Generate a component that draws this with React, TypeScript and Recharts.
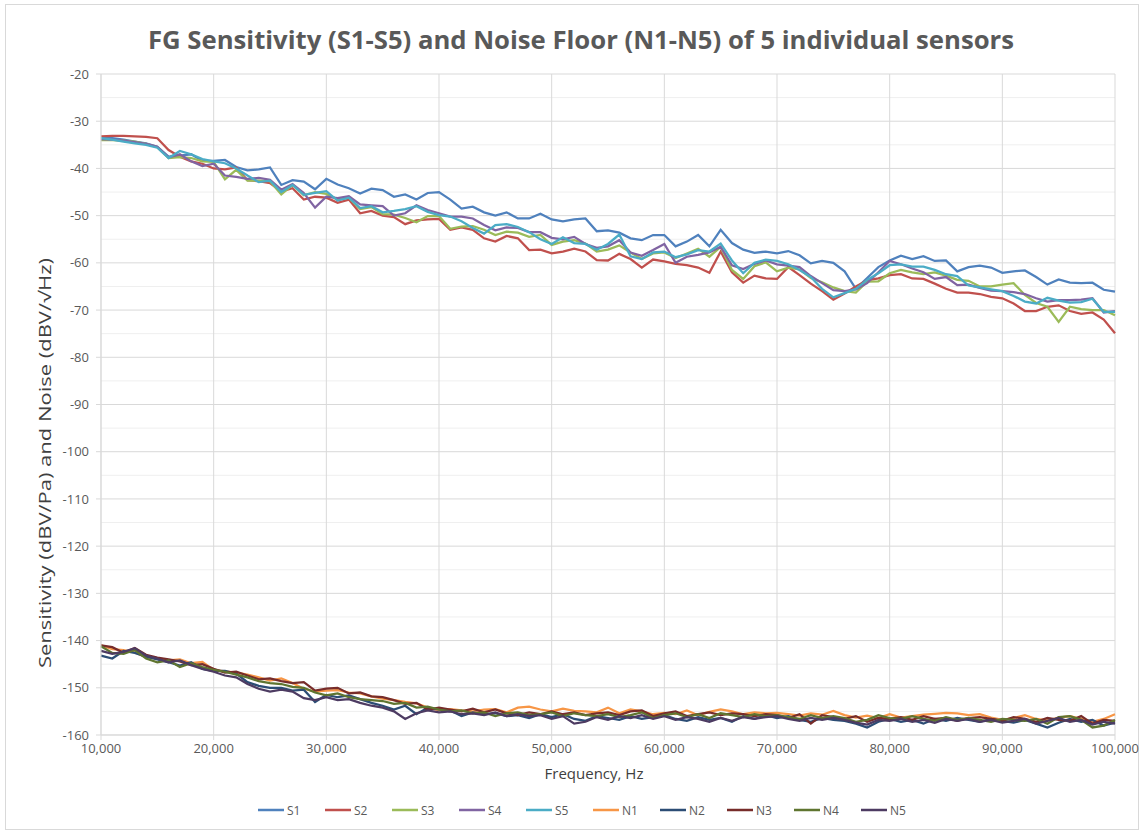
import React from 'react';
import { LineChart, Line, XAxis, YAxis, CartesianGrid, Legend } from 'recharts';

const FREQ = [
  10000, 11000, 12000, 13000, 14000, 15000, 16000, 17000, 18000, 19000,
  20000, 21000, 22000, 23000, 24000, 25000, 26000, 27000, 28000, 29000,
  30000, 31000, 32000, 33000, 34000, 35000, 36000, 37000, 38000, 39000,
  40000, 41000, 42000, 43000, 44000, 45000, 46000, 47000, 48000, 49000,
  50000, 51000, 52000, 53000, 54000, 55000, 56000, 57000, 58000, 59000,
  60000, 61000, 62000, 63000, 64000, 65000, 66000, 67000, 68000, 69000,
  70000, 71000, 72000, 73000, 74000, 75000, 76000, 77000, 78000, 79000,
  80000, 81000, 82000, 83000, 84000, 85000, 86000, 87000, 88000, 89000,
  90000, 91000, 92000, 93000, 94000, 95000, 96000, 97000, 98000, 99000,
  100000,
];

const S1 = [
  -33.4, -33.6, -33.9, -34.3, -34.7, -35.4, -37.5, -37.3, -37.0, -38.4,
  -38.4, -38.2, -39.7, -40.4, -40.2, -39.8, -43.5, -42.5, -42.8, -44.4,
  -42.2, -43.4, -44.2, -45.3, -44.3, -44.6, -46.0, -45.5, -46.6, -45.2,
  -45.0, -46.6, -48.5, -48.1, -49.3, -50.0, -49.3, -50.6, -50.6, -49.6,
  -50.8, -51.2, -50.8, -50.6, -53.3, -53.1, -53.6, -54.8, -55.2, -54.1,
  -54.1, -56.5, -55.5, -54.1, -56.5, -53.0, -55.8, -57.2, -57.9, -57.6,
  -58.0, -57.5, -58.4, -60.1, -59.6, -60.0, -61.8, -65.5, -63.2, -60.9,
  -59.5, -58.5, -59.2, -58.6, -59.6, -59.5, -61.8, -60.9, -60.6, -61.0,
  -62.1, -61.8, -61.6, -63.0, -64.6, -63.5, -64.2, -64.3, -64.2, -65.7,
  -66.1,
];

const S2 = [
  -33.2, -33.1, -33.1, -33.2, -33.3, -33.6, -36.1, -37.5, -38.5, -39.0,
  -40.0, -40.2, -39.8, -42.5, -42.7, -43.1, -44.9, -44.2, -46.6, -46.0,
  -46.2, -47.3, -46.6, -49.5, -49.0, -50.0, -50.3, -51.8, -51.0, -50.8,
  -50.7, -53.0, -52.5, -53.0, -54.8, -55.5, -54.3, -54.8, -57.3, -57.2,
  -58.0, -57.6, -57.0, -57.6, -59.4, -59.5, -58.1, -59.2, -61.0, -59.3,
  -59.7, -60.2, -60.5, -61.0, -62.1, -57.6, -62.0, -64.2, -62.7, -63.3,
  -63.4, -60.9, -62.6, -64.4, -66.0, -67.8, -66.5, -65.0, -63.7, -63.3,
  -62.6, -62.4, -63.3, -63.4, -64.4, -65.5, -66.3, -66.3, -66.6, -67.2,
  -67.5, -68.6, -70.2, -70.2, -69.3, -69.0, -70.2, -70.8, -70.5, -72.0,
  -74.9,
];

const S3 = [
  -34.0, -34.0, -34.1, -34.3, -34.8, -35.5, -37.8, -37.6, -37.8, -38.5,
  -38.6, -42.3, -40.3, -42.6, -42.6, -42.7, -45.5, -43.5, -45.7, -45.0,
  -45.4, -46.6, -46.2, -48.6, -48.2, -49.7, -49.8, -50.5, -51.4, -50.1,
  -50.1, -52.8, -52.3, -52.2, -53.0, -54.1, -53.4, -53.6, -54.5, -54.1,
  -56.2, -55.5, -55.2, -55.9, -57.6, -57.2, -56.3, -57.8, -59.2, -58.0,
  -57.8, -59.0, -58.0, -57.0, -58.7, -56.6, -61.5, -63.4, -60.7, -59.9,
  -61.8, -61.0, -61.4, -63.2, -64.1, -65.2, -66.0, -66.3, -64.0, -63.9,
  -62.2, -61.5, -62.0, -62.4, -62.0, -62.7, -63.6, -63.8, -65.0, -65.0,
  -64.6, -64.3, -66.8, -68.5, -69.3, -72.5, -69.3, -69.8, -70.0, -70.0,
  -71.1,
];

const S4 = [
  -33.8, -33.9, -34.1, -34.4, -34.8, -35.4, -37.7, -37.0, -38.5, -39.5,
  -39.0, -41.5, -41.8, -42.2, -42.0, -42.4, -44.5, -43.3, -45.2, -48.3,
  -46.0, -46.3, -45.9, -47.6, -47.8, -48.0, -50.0, -49.5, -47.8, -48.8,
  -49.5, -50.2, -50.2, -50.6, -52.0, -53.1, -52.5, -52.6, -53.5, -53.5,
  -54.7, -55.0, -54.5, -56.0, -56.8, -56.5, -55.2, -57.8, -58.5, -57.3,
  -56.0, -60.0, -58.7, -58.3, -57.8, -56.6, -60.5, -61.3, -60.2, -59.5,
  -60.3, -60.6, -60.9, -62.8, -64.3, -65.8, -66.0, -65.6, -64.3, -62.0,
  -59.6, -60.3, -61.2, -62.0, -63.4, -63.0, -64.7, -64.6, -65.3, -65.9,
  -66.0, -66.2, -66.6, -67.5, -68.2, -67.9, -67.9, -67.8, -67.5, -70.5,
  -70.2,
];

const S5 = [
  -33.6, -33.9, -34.3, -34.7, -35.0, -35.6, -37.8, -36.3, -37.0, -38.0,
  -38.5, -38.9, -40.0, -41.5, -42.9, -42.6, -45.0, -43.5, -45.6, -45.2,
  -44.8, -46.8, -46.2, -48.4, -48.0, -49.3, -49.0, -48.6, -48.0, -49.2,
  -49.9, -50.2, -51.2, -52.6, -53.8, -52.0, -51.8, -52.4, -53.5, -55.0,
  -56.0, -54.6, -55.8, -56.0, -57.2, -56.0, -54.0, -58.6, -59.2, -57.8,
  -57.6, -58.8, -58.2, -57.3, -57.6, -55.9, -59.5, -62.2, -60.0, -59.3,
  -59.6, -60.3, -61.5, -63.0, -65.5, -67.3, -66.4, -65.5, -63.6, -62.2,
  -60.5, -60.3, -60.8, -60.8, -61.5, -62.4, -62.8, -64.8, -65.2, -65.6,
  -66.0, -67.0, -68.2, -68.6, -67.4, -68.0, -68.4, -68.3, -67.6, -70.4,
  -70.4,
];

const N1 = [
  -141.0, -141.8, -142.0, -142.5, -143.5, -143.8, -144.2, -144.0, -144.8, -144.5,
  -146.2, -146.5, -146.8, -147.2, -147.8, -148.5, -148.0, -149.0, -150.2, -150.8,
  -150.6, -150.5, -151.0, -151.2, -151.8, -152.3, -152.6, -153.0, -153.3, -154.2,
  -154.8, -154.5, -154.8, -155.0, -154.6, -154.5, -155.2, -154.2, -154.0, -154.6,
  -155.0, -154.4, -154.9, -155.0, -155.2, -154.2, -155.4, -154.6, -155.0, -155.6,
  -155.3, -155.6, -154.8, -155.8, -155.1, -154.6, -155.0, -155.6, -155.2, -155.4,
  -155.3, -155.6, -155.9, -155.4, -155.7, -154.9, -155.8, -156.3, -155.9, -156.4,
  -155.6, -156.3, -156.0, -155.7, -155.5, -155.3, -155.4, -155.8, -155.6, -156.3,
  -156.8, -156.4, -155.8, -156.6, -156.9, -156.3, -156.0, -156.6, -157.2, -156.6,
  -155.6,
];

const N2 = [
  -143.2, -143.8, -142.2, -142.6, -143.4, -144.0, -144.6, -145.3, -144.6, -146.0,
  -146.4, -146.4, -147.0, -148.8, -149.6, -150.0, -150.0, -150.6, -150.4, -153.0,
  -151.5, -152.0, -151.6, -152.4, -153.2, -153.8, -154.6, -153.8, -155.6, -154.2,
  -154.6, -154.8, -156.0, -155.2, -155.6, -155.4, -156.0, -155.8, -156.4, -155.6,
  -156.2, -155.6, -156.6, -157.0, -156.0, -156.4, -156.8, -156.0, -156.6, -156.2,
  -155.8, -156.6, -157.0, -156.2, -156.8, -156.4, -157.2, -156.0, -156.6, -155.8,
  -156.4, -156.0, -156.8, -157.2, -156.4, -156.8, -157.0, -157.6, -158.4, -157.2,
  -156.6, -157.2, -156.8, -157.6, -156.6, -157.0, -156.4, -156.8, -157.2, -156.6,
  -157.0, -157.4, -156.8, -157.6, -158.4, -157.4, -156.6, -157.2, -156.8, -158.0,
  -157.4,
];

const N3 = [
  -141.0, -141.4, -142.6, -141.6, -143.0, -143.6, -144.0, -144.4, -145.2, -145.0,
  -146.0, -146.8, -146.6, -147.4, -148.2, -148.0, -148.6, -149.0, -148.8, -150.6,
  -150.2, -150.0, -151.2, -151.0, -151.8, -152.0, -152.6, -153.4, -153.2, -154.6,
  -154.2, -154.6, -155.0, -154.4, -155.2, -154.6, -155.4, -155.8, -155.2, -155.6,
  -155.0, -155.6, -155.2, -155.8, -155.4, -155.2, -155.8, -155.0, -154.8, -156.0,
  -155.4, -155.0, -156.0, -155.6, -155.2, -155.8, -155.4, -155.6, -156.0, -155.6,
  -155.8, -156.4, -155.6, -157.6, -155.8, -156.2, -156.6, -156.0, -157.2, -156.4,
  -156.6, -156.2, -156.8, -156.0, -156.6, -156.4, -157.0, -156.4, -156.2, -156.6,
  -157.0, -156.2, -156.6, -157.2, -156.4, -156.8, -157.0, -156.0, -157.6, -156.8,
  -157.0,
];

const N4 = [
  -141.2, -142.6, -142.8, -142.0, -143.8, -144.6, -144.2, -145.6, -144.8, -145.6,
  -146.2, -146.6, -147.2, -147.8, -148.6, -149.0, -149.2, -149.8, -150.0, -151.0,
  -151.6, -151.2, -152.0, -152.4, -152.6, -152.8, -153.4, -153.2, -154.2, -154.0,
  -154.6, -155.0, -154.8, -155.4, -155.2, -156.0, -155.4, -155.2, -155.8, -155.6,
  -155.2, -156.0, -155.4, -155.8, -156.0, -155.6, -156.2, -155.8, -155.2, -156.4,
  -155.8, -155.4, -156.2, -155.6, -156.4, -155.4, -155.8, -156.2, -155.6, -156.0,
  -155.8, -156.2, -156.6, -155.8, -156.4, -156.0, -156.4, -157.2, -156.8, -155.8,
  -156.4, -156.6, -156.0, -156.6, -157.0, -156.2, -156.8, -156.4, -156.8, -157.2,
  -156.6, -156.8, -157.0, -156.6, -157.6, -156.2, -156.0, -156.8, -158.4, -158.0,
  -156.8,
];

const N5 = [
  -142.2, -142.8, -142.4, -141.6, -143.2, -143.8, -144.6, -144.2, -145.2, -146.0,
  -146.6, -147.4, -147.8, -149.2, -150.2, -150.8, -150.4, -150.8, -152.2, -152.6,
  -152.0, -152.6, -152.4, -153.2, -153.8, -154.2, -155.0, -156.6, -155.4, -154.8,
  -155.2, -155.0, -155.6, -155.4, -155.8, -155.2, -156.0, -155.6, -156.0, -155.8,
  -156.6, -156.0, -157.6, -157.2, -156.2, -156.8, -156.0, -156.4, -155.8, -156.6,
  -156.0, -156.8, -156.2, -156.6, -157.2, -156.4, -157.0, -156.2, -156.6, -156.2,
  -156.0, -156.6, -157.0, -156.4, -156.8, -156.4, -156.8, -157.4, -157.8, -156.8,
  -157.0, -156.6, -157.2, -156.8, -157.4, -156.6, -157.0, -156.6, -157.2, -156.8,
  -157.4, -157.0, -156.6, -157.6, -157.0, -156.4, -157.2, -156.8, -157.8, -157.2,
  -157.6,
];

const SERIES_NAMES = ['S1', 'S2', 'S3', 'S4', 'S5', 'N1', 'N2', 'N3', 'N4', 'N5'];
const SERIES_VALUES = [S1, S2, S3, S4, S5, N1, N2, N3, N4, N5];
const SERIES_COLORS = [
  '#4F81BD', '#C0504D', '#9BBB59', '#8064A2', '#4BACC6',
  '#F79646', '#2C4D75', '#772C2A', '#5F7530', '#4D3B62',
];

const X_TICKS = [10000, 20000, 30000, 40000, 50000, 60000, 70000, 80000, 90000, 100000];
const Y_TICKS = [-20, -30, -40, -50, -60, -70, -80, -90, -100, -110, -120, -130, -140, -150, -160];
const Y_MINOR = [-25, -35, -45, -55, -65, -75, -85, -95, -105, -115, -125, -135, -145, -155];

const TITLE = 'FG Sensitivity (S1-S5) and Noise Floor (N1-N5) of 5 individual sensors';
const X_LABEL = 'Frequency, Hz';
const Y_LABEL = 'Sensitivity (dBV/Pa) and Noise (dBV/\u221AHz)';

const data = FREQ.map((f, i) => {
  const row: Record<string, number> = { f };
  SERIES_NAMES.forEach((n, k) => {
    row[n] = SERIES_VALUES[k][i];
  });
  return row;
});

const FONT = "'Open Sans', 'Liberation Sans', sans-serif";
const TICK_STYLE = { fill: '#595959', fontSize: 13, fontFamily: FONT };

const LegendContent = () => (
  <div
    style={{
      display: 'flex',
      justifyContent: 'flex-start',
      height: 20,
      alignItems: 'center',
      fontFamily: FONT,
      fontSize: 12,
      color: '#595959',
      paddingLeft: 258,
    }}
  >
    {SERIES_NAMES.map((n, k) => (
      <div key={n} style={{ display: 'flex', alignItems: 'center', width: 67 }}>
        <svg width={26} height={10} style={{ marginRight: 3 }}>
          <line x1={0} y1={5} x2={26} y2={5} stroke={SERIES_COLORS[k]} strokeWidth={2.5} />
        </svg>
        <span>{n}</span>
      </div>
    ))}
  </div>
);

export default function App() {
  return (
    <div style={{ position: 'absolute', left: 0, top: 0, width: 1144, height: 832, background: '#fff' }}>
      <div
        style={{
          position: 'absolute',
          left: 5,
          top: 4,
          width: 1134,
          height: 826,
          border: '1px solid #d9d9d9',
          boxSizing: 'border-box',
        }}
      />
      <div style={{ position: 'absolute', left: 0, top: 0 }}>
        <LineChart
          width={1144}
          height={832}
          data={data}
          margin={{ top: 74, right: 29, left: 0, bottom: 12 }}
        >
          <CartesianGrid
            horizontalValues={Y_MINOR}
            vertical={false}
            stroke="#efefef"
            strokeWidth={1}
          />
          <CartesianGrid
            horizontalValues={Y_TICKS}
            verticalValues={X_TICKS}
            stroke="#d9d9d9"
            strokeWidth={1}
          />
          <XAxis
            dataKey="f"
            type="number"
            domain={[10000, 100000]}
            ticks={X_TICKS}
            tickFormatter={(v: number) => v.toLocaleString('en-US')}
            tick={TICK_STYLE}
            tickSize={5}
            tickMargin={4}
            stroke="#d9d9d9"
            height={65}
            interval={0}
          />
          <YAxis
            type="number"
            domain={[-160, -20]}
            ticks={Y_TICKS}
            tick={TICK_STYLE}
            tickSize={5}
            tickMargin={7}
            stroke="#d9d9d9"
            width={101}
            interval={0}
            allowDataOverflow
          />
          <Legend verticalAlign="bottom" content={<LegendContent />} />
          {SERIES_NAMES.map((n, k) => (
            <Line
              key={n}
              type="linear"
              dataKey={n}
              stroke={SERIES_COLORS[k]}
              strokeWidth={2.25}
              dot={false}
              activeDot={false}
              isAnimationActive={false}
            />
          ))}
        </LineChart>
      </div>
      <svg
        style={{ position: 'absolute', left: 0, top: 0, pointerEvents: 'none' }}
        width={1144}
        height={832}
      >
        <text
          x={148}
          y={49}
          fill="#595959"
          fontSize={25}
          fontWeight="bold"
          fontFamily={FONT}
          textLength={866}
          lengthAdjust="spacingAndGlyphs"
        >
          {TITLE}
        </text>
        <text
          x={0}
          y={0}
          transform="translate(51, 463) rotate(-90)"
          textAnchor="middle"
          fill="#404040"
          fontSize={16}
          fontFamily={FONT}
          textLength={410}
          lengthAdjust="spacingAndGlyphs"
        >
          {Y_LABEL}
        </text>
        <text
          x={594}
          y={779}
          textAnchor="middle"
          fill="#404040"
          fontSize={15}
          fontFamily={FONT}
        >
          {X_LABEL}
        </text>
      </svg>
    </div>
  );
}
